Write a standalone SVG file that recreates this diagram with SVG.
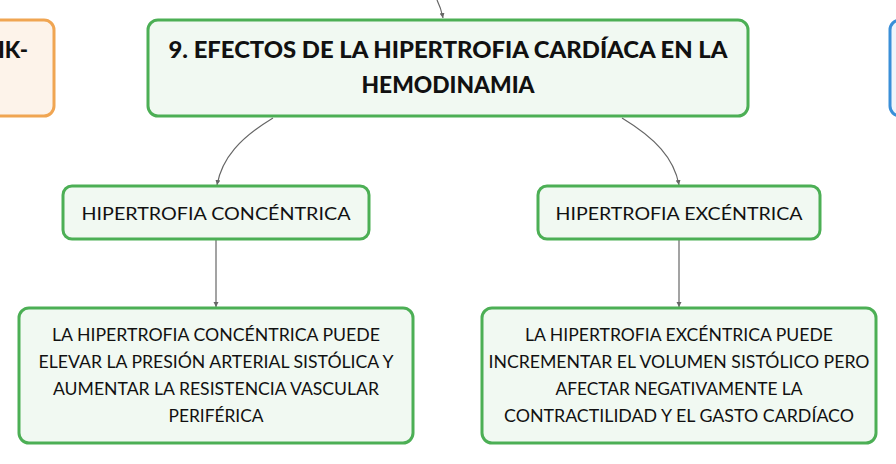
<svg xmlns="http://www.w3.org/2000/svg" width="896" height="464" viewBox="0 0 896 464">
<defs>
<marker id="arr" viewBox="0 0 6 6" refX="5" refY="3" markerWidth="5" markerHeight="5" orient="auto">
<path d="M0,0.5 L5,3 L0,5.5 z" fill="#666"/>
</marker>
</defs>
<style>
.g{fill:#f1f9f2;stroke:#4caf55;stroke-width:3}
.t{font-family:Lato,"Noto Sans",sans-serif;fill:#111;text-anchor:middle}
.b{font-weight:900;font-size:22px}
.m{font-size:18px}
.s{font-size:16.5px}
.c{fill:none;stroke:#666;stroke-width:1.2}
</style>
<rect width="896" height="464" fill="#fff"/>
<g id="connectors">
<path class="c" d="M437,0 Q441,8 443,18" marker-end="url(#arr)"/>
<path class="c" d="M273,118 C240,138 222,158 217,185" marker-end="url(#arr)"/>
<path class="c" d="M622,118 C655,138 674,158 679,185" marker-end="url(#arr)"/>
<path class="c" d="M216,240 L216,307" marker-end="url(#arr)"/>
<path class="c" d="M679,240 L679,307" marker-end="url(#arr)"/>
</g>
<g id="node-left">
<rect x="-20" y="20" width="74" height="96" rx="10" fill="#fdf3ea" stroke="#f0a552" stroke-width="3"/>
<text class="t b" x="28" y="58" style="text-anchor:end" textLength="30" lengthAdjust="spacingAndGlyphs">IK-</text>
</g>
<g id="node-right">
<rect x="890" y="20" width="40" height="96" rx="10" fill="#eef5fc" stroke="#3a8fd8" stroke-width="3"/>
</g>
<g id="node-main">
<rect class="g" x="148" y="20" width="600" height="96" rx="10"/>
<text class="t b" x="448" y="58" textLength="559" lengthAdjust="spacingAndGlyphs">9. EFECTOS DE LA HIPERTROFIA CARDÍACA EN LA</text>
<text class="t b" x="448" y="93" textLength="173" lengthAdjust="spacingAndGlyphs">HEMODINAMIA</text>
</g>
<g id="node-concentrica">
<rect class="g" x="63" y="186" width="306" height="53" rx="9"/>
<text class="t m" x="216" y="220" textLength="269" lengthAdjust="spacingAndGlyphs">HIPERTROFIA CONCÉNTRICA</text>
</g>
<g id="node-excentrica">
<rect class="g" x="538" y="186" width="282" height="53" rx="9"/>
<text class="t m" x="679" y="220" textLength="247" lengthAdjust="spacingAndGlyphs">HIPERTROFIA EXCÉNTRICA</text>
</g>
<g id="node-concentrica-desc">
<rect class="g" x="19" y="308" width="394" height="135" rx="10"/>
<text class="t s" x="216" y="341" textLength="328" lengthAdjust="spacingAndGlyphs">LA HIPERTROFIA CONCÉNTRICA PUEDE</text>
<text class="t s" x="216" y="368" textLength="355" lengthAdjust="spacingAndGlyphs">ELEVAR LA PRESIÓN ARTERIAL SISTÓLICA Y</text>
<text class="t s" x="216" y="395" textLength="326" lengthAdjust="spacingAndGlyphs">AUMENTAR LA RESISTENCIA VASCULAR</text>
<text class="t s" x="216" y="422" textLength="95" lengthAdjust="spacingAndGlyphs">PERIFÉRICA</text>
</g>
<g id="node-excentrica-desc">
<rect class="g" x="482" y="308" width="394" height="135" rx="10"/>
<text class="t s" x="679" y="341" textLength="308" lengthAdjust="spacingAndGlyphs">LA HIPERTROFIA EXCÉNTRICA PUEDE</text>
<text class="t s" x="679" y="368" textLength="381" lengthAdjust="spacingAndGlyphs">INCREMENTAR EL VOLUMEN SISTÓLICO PERO</text>
<text class="t s" x="679" y="395" textLength="247" lengthAdjust="spacingAndGlyphs">AFECTAR NEGATIVAMENTE LA</text>
<text class="t s" x="679" y="422" textLength="350" lengthAdjust="spacingAndGlyphs">CONTRACTILIDAD Y EL GASTO CARDÍACO</text>
</g>
</svg>
